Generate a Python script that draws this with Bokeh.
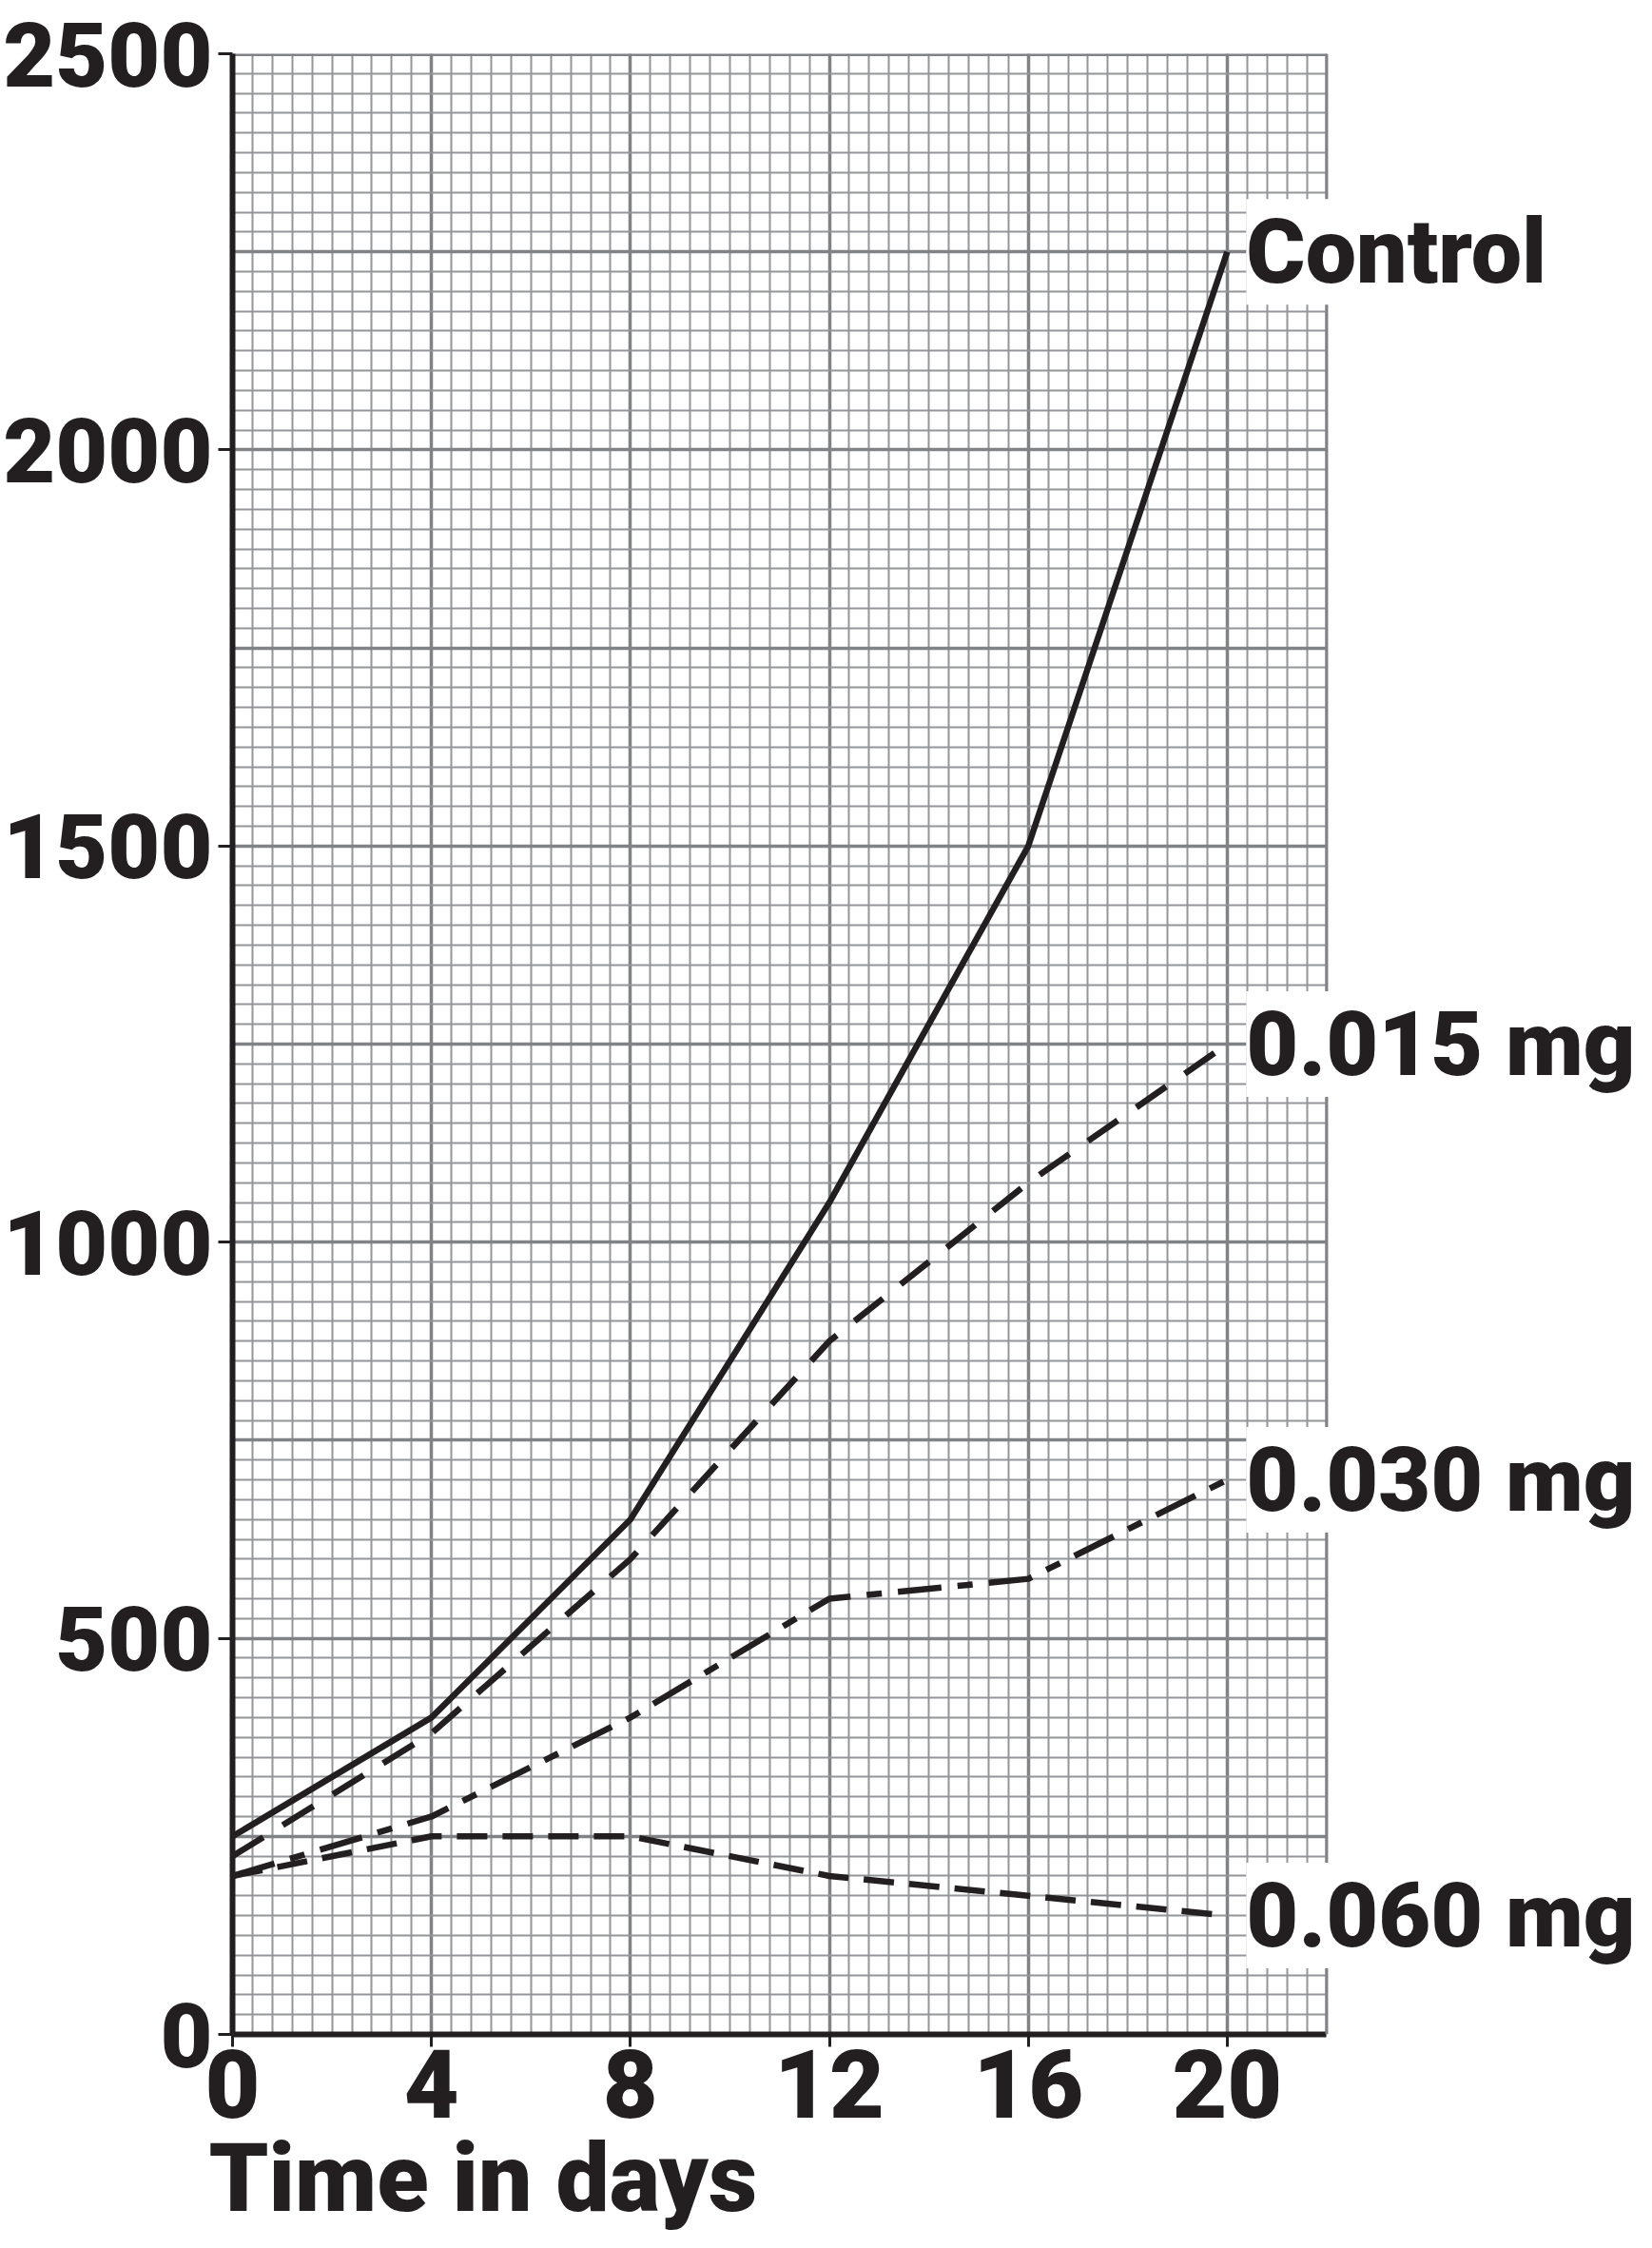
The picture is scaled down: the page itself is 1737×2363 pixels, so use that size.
from bokeh.plotting import figure
from bokeh.models import SingleIntervalTicker, Label, Span, Title
from bokeh.embed import file_html
from bokeh.resources import INLINE

# ---- data ----
days = [0, 4, 8, 12, 16, 20]
control = [250, 400, 650, 1050, 1500, 2250]
mg_015 = [225, 380, 600, 875, 1075, 1250]
mg_030 = [200, 275, 400, 550, 575, 700]
mg_060 = [200, 250, 250, 200, 175, 150]

series_names = ["Control", "0.015 mg", "0.030 mg", "0.060 mg"]
series_values = [control, mg_015, mg_030, mg_060]
x_axis_title = "Time in days"

INK = "#231f20"
GRID_MINOR = "#939598"
GRID_MAJOR = "#808285"
FONT = "Roboto Black"

# graph paper spans 0..22 days, 0..2500; extra room on the right for labels
X_GRID_MAX = 22
Y_MAX = 2500
X_VIEW_MAX = X_GRID_MAX * 1479 / 1152

p = figure(
    width=1721, height=2347,
    x_range=(0, X_VIEW_MAX), y_range=(0, Y_MAX),
    min_border_left=242, min_border_right=0,
    min_border_top=56, min_border_bottom=0,
    output_backend="svg", toolbar_location=None,
)
p.outline_line_color = None

# graph-paper grid
p.xgrid.ticker = SingleIntervalTicker(interval=4, num_minor_ticks=10)
p.ygrid.ticker = SingleIntervalTicker(interval=250, num_minor_ticks=10)
for g in (p.xgrid, p.ygrid):
    g.grid_line_color = GRID_MAJOR
    g.grid_line_width = 3.5
    g.minor_grid_line_color = GRID_MINOR
    g.minor_grid_line_width = 2

# blank out the paper beyond the last grid column
p.quad(left=[X_GRID_MAX], right=[X_VIEW_MAX], bottom=[0], top=[Y_MAX],
       fill_color="white", line_color=None)
# paper border (top and right)
p.segment(x0=[0], y0=[Y_MAX], x1=[X_GRID_MAX], y1=[Y_MAX],
          line_color=GRID_MAJOR, line_width=5)
p.add_layout(Span(location=X_GRID_MAX, dimension="height",
                  line_color=GRID_MAJOR, line_width=3))

# axes
p.xaxis.ticker = SingleIntervalTicker(interval=4, num_minor_ticks=0)
p.yaxis.ticker = SingleIntervalTicker(interval=500, num_minor_ticks=0)
p.xaxis.bounds = (0, X_GRID_MAX)
for ax in (p.xaxis, p.yaxis):
    ax.axis_line_color = INK
    ax.axis_line_width = 6
    ax.major_tick_line_color = INK
    ax.major_tick_line_width = 3
    ax.major_tick_in = 0
    ax.minor_tick_line_color = None
    ax.major_label_text_color = INK
    ax.major_label_text_font = FONT

p.xaxis.major_label_text_font_size = "100px"
p.xaxis.major_tick_out = 13
p.xaxis.major_label_standoff = 2

p.yaxis.major_label_text_font_size = "95px"
p.yaxis.major_tick_out = 15
p.yaxis.major_label_standoff = 6

# x-axis title, left aligned under the axis
p.add_layout(Title(
    text=x_axis_title, align="left", offset=-25, standoff=0,
    text_font=FONT, text_font_style="normal", text_font_size="100px",
    text_color=INK,
), "below")

# series lines
styles = ["solid", "38 24", "46 17 16 17", "32 16"]
for vals, dash in zip(series_values, styles):
    p.line(days, vals, line_color=INK, line_width=6.5, line_dash=dash)

# end-of-line labels with white background
for name, vals in zip(series_names, series_values):
    p.add_layout(Label(
        x=days[-1], y=vals[-1], text=name, x_offset=20,
        text_font=FONT, text_font_size="95px",
        text_color=INK, text_baseline="middle", text_align="left",
        background_fill_color="white",
    ))

open("out.html", "w").write(file_html(p, INLINE))
